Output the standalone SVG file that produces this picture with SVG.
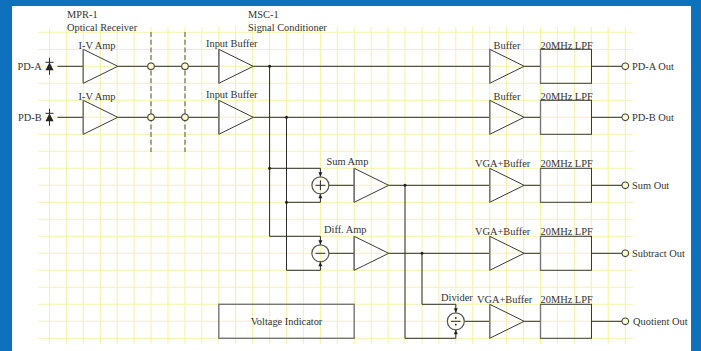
<svg xmlns="http://www.w3.org/2000/svg" width="701" height="351" viewBox="0 0 701 351">
<defs>
<style>
.g{stroke:#f6f3a6;stroke-width:1.1;fill:none}
.l{stroke:#2c2c2c;stroke-width:1;fill:none}
.s{fill:none;stroke:#3a3a3a;stroke-width:1}
.e{stroke:#777;stroke-width:1.4;fill:none}
.c{fill:#fffcd0;stroke:#444;stroke-width:1.1}
.o{fill:none;stroke:#555;stroke-width:1.2}
.d{stroke:#777;stroke-width:1.3;stroke-dasharray:5 2.7;fill:none}
.j{fill:#222}
text{font-family:"Liberation Serif","Times New Roman",serif;font-size:10.4px;fill:#333}
.m{text-anchor:middle}
</style>
<g id="amp"><path class="s" d="M0-17L34.500 0L0 17Z"/><path class="e" d="M0-17V17"/></g>
<g id="lpf"><rect class="s" x="0" y="-17" width="51" height="34"/><path class="e" d="M0-17V17"/></g>
<g id="out"><circle class="c" r="3.300"/></g>
<path id="ad" class="j" d="M0 0L-2-4.500H2Z"/>
<path id="au" class="j" d="M0 0L-2 4.500H2Z"/>
<g id="dio"><path class="j" d="M0-4L-4 4H4Z"/><path class="l" d="M0-8.500V8.500"/><path class="l" stroke-width="1.400" d="M-4-4H4"/></g>
</defs>
<rect width="701" height="351" fill="#0d72bb"/>
<rect x="12" y="6" width="679" height="345" fill="#fff"/>
<g id="grid" class="g">
<path d="M38 32.300H633M38 49.500H633M38 66.300H633M38 83.300H633M38 100.300H633M38 117.300H633M38 134.300H633M38 151.300H633M38 168.300H633M38 185.300H633M38 202.300H633M38 219.300H633M38 236.300H633M38 253.300H633M38 270.300H633M38 287.300H633M38 304.300H633M38 321.300H633M38 338.300H633"/>
<path d="M49.500 27V344M66.400 27V344M83.300 27V344M100.300 27V344M117.200 27V344M134.100 27V344M151 27V344M168 27V344M184.900 27V344M201.800 27V344M218.800 27V344M235.700 27V344M252.700 27V344M269.600 27V344M286.500 27V344M303.400 27V344M320.400 27V344M337.300 27V344M354.200 27V344M371.200 27V344M388.100 27V344M405 27V344M422 27V344M438.900 27V344M455.800 27V344M472.800 27V344M489.700 27V344M506.600 27V344M523.600 27V344M540.500 27V344M557.400 27V344M574.400 27V344M591.300 27V344M608.200 27V344M625.300 27V344"/>
</g>
<g id="dividers"><path class="d" d="M151 32V152M185 32V152"/></g>
<g id="connectors">
<path class="l" d="M57.500 66.300H83.300M117.800 66.300H147.700M154.300 66.300H181.700M188.300 66.300H218.800M253.300 66.300H489.700M524.200 66.300H540.500M591.500 66.300H622"/>
<path class="l" d="M57.500 117.300H83.300M117.800 117.300H147.700M154.300 117.300H181.700M188.300 117.300H218.800M253.300 117.300H489.700M524.200 117.300H540.500M591.500 117.300H622"/>
<path class="l" d="M269.600 66.300V236.300H320.400V244.500M269.600 168.300H320.400V176.500"/>
<path class="l" d="M286.500 117.300V270.300H320.400V261.500M286.500 202.300H320.400V194"/>
<path class="l" d="M329 185.300H354.200M329 253.300H354.200"/>
<path class="l" d="M388.700 185.300H489.700M388.700 253.300H489.700"/>
<path class="l" d="M405 185.300V338.300H455.800V330M422 253.300V304.300H455.800V312.500"/>
<path class="l" d="M464.500 321.300H489.700"/>
<path class="l" d="M524.200 185.300H540.500M591.500 185.300H622M524.200 253.300H540.500M591.500 253.300H622M524.200 321.300H540.500M591.500 321.300H622"/>
<circle class="j" cx="269.600" cy="66.300" r="1.500"/><circle class="j" cx="286.500" cy="117.300" r="1.500"/>
<circle class="j" cx="269.600" cy="168.300" r="1.500"/><circle class="j" cx="286.500" cy="202.300" r="1.500"/>
<circle class="j" cx="405" cy="185.300" r="1.500"/><circle class="j" cx="422" cy="253.300" r="1.500"/>
<use href="#ad" x="320.400" y="176.800"/><use href="#au" x="320.400" y="193.800"/>
<use href="#ad" x="320.400" y="244.800"/><use href="#au" x="320.400" y="261.800"/>
<use href="#ad" x="455.800" y="312.800"/><use href="#au" x="455.800" y="329.800"/>
</g>
<g id="pd-a"><use href="#dio" x="49.500" y="66.300"/><text x="17.500" y="69.800">PD-A</text></g>
<g id="pd-b"><use href="#dio" x="49.500" y="117.300"/><text x="18" y="120.800">PD-B</text></g>
<g id="iv-a"><use href="#amp" x="83.300" y="66.300"/><text x="78.500" y="48.500">I-V Amp</text></g>
<g id="iv-b"><use href="#amp" x="83.300" y="117.300"/><text x="78.500" y="99.500">I-V Amp</text></g>
<g id="conn-a"><circle class="c" cx="151" cy="66.300" r="3.300"/><circle class="c" cx="185" cy="66.300" r="3.300"/></g>
<g id="conn-b"><circle class="c" cx="151" cy="117.300" r="3.300"/><circle class="c" cx="185" cy="117.300" r="3.300"/></g>
<g id="ib-a"><use href="#amp" x="218.800" y="66.300"/><text x="206" y="46.500">Input Buffer</text></g>
<g id="ib-b"><use href="#amp" x="218.800" y="117.300"/><text x="206" y="97.500">Input Buffer</text></g>
<g id="buf-a"><use href="#amp" x="489.700" y="66.300"/><text x="493.500" y="48.500">Buffer</text></g>
<g id="buf-b"><use href="#amp" x="489.700" y="117.300"/><text x="493.500" y="99.500">Buffer</text></g>
<g id="lpf-a"><use href="#lpf" x="540.500" y="66.300"/><text x="540.500" y="48.500">20MHz LPF</text></g>
<g id="lpf-b"><use href="#lpf" x="540.500" y="117.300"/><text x="540.500" y="99.500">20MHz LPF</text></g>
<g id="out-a"><use href="#out" x="625.300" y="66.300"/><text x="632" y="70">PD-A Out</text></g>
<g id="out-b"><use href="#out" x="625.300" y="117.300"/><text x="632" y="121">PD-B Out</text></g>
<g id="sum"><circle class="o" cx="320.400" cy="185.300" r="8.500"/><path class="l" d="M315.500 185.300H325.300M320.400 180.400V190.200"/><text x="326.500" y="164.500">Sum Amp</text></g>
<g id="diff"><circle class="o" cx="320.400" cy="253.300" r="8.500"/><path class="l" stroke="#666" d="M315.500 253.300H325.300"/><text x="324" y="232.500">Diff. Amp</text></g>
<g id="div"><circle class="o" cx="455.800" cy="321.300" r="8.500"/><path class="l" d="M451 321.300H460.600"/><circle class="j" cx="455.800" cy="318" r="0.900"/><circle class="j" cx="455.800" cy="324.600" r="0.900"/><text x="441" y="300.500">Divider</text></g>
<g id="samp"><use href="#amp" x="354.200" y="185.300"/></g>
<g id="damp"><use href="#amp" x="354.200" y="253.300"/></g>
<g id="vga-s"><use href="#amp" x="489.700" y="185.300"/><text x="475" y="167">VGA+Buffer</text></g>
<g id="vga-d"><use href="#amp" x="489.700" y="253.300"/><text x="475" y="235">VGA+Buffer</text></g>
<g id="vga-q"><use href="#amp" x="489.700" y="321.300"/><text x="477" y="303">VGA+Buffer</text></g>
<g id="lpf-s"><use href="#lpf" x="540.500" y="185.300"/><text x="540.500" y="167">20MHz LPF</text></g>
<g id="lpf-d"><use href="#lpf" x="540.500" y="253.300"/><text x="540.500" y="235">20MHz LPF</text></g>
<g id="lpf-q"><use href="#lpf" x="540.500" y="321.300"/><text x="540.500" y="303">20MHz LPF</text></g>
<g id="out-s"><use href="#out" x="625.300" y="185.300"/><text x="632" y="189">Sum Out</text></g>
<g id="out-d"><use href="#out" x="625.300" y="253.300"/><text x="632" y="257">Subtract Out</text></g>
<g id="out-q"><use href="#out" x="625.300" y="321.300"/><text x="633" y="325">Quotient Out</text></g>
<g id="volt"><rect class="e" x="218.800" y="304.300" width="135.400" height="34"/><text x="286.500" y="325" class="m">Voltage Indicator</text></g>
<g id="hdr-mpr"><text x="67" y="18">MPR-1</text><text x="67" y="31">Optical Receiver</text></g>
<g id="hdr-msc"><text x="248" y="18">MSC-1</text><text x="248" y="31">Signal Conditioner</text></g>
</svg>
